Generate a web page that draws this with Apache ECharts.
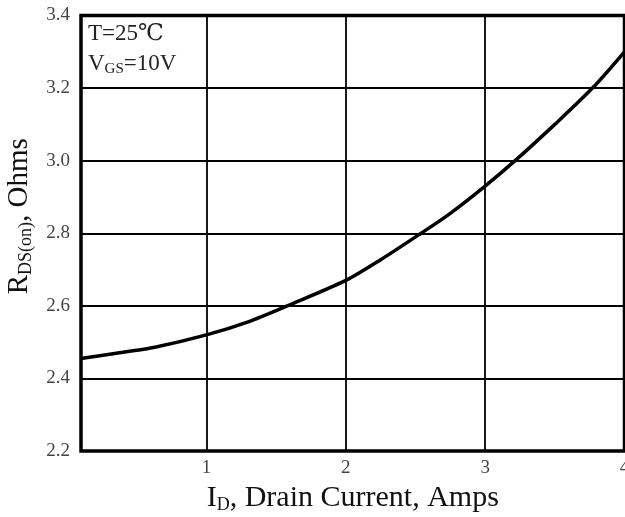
<!DOCTYPE html>
<html>
<head>
<meta charset="utf-8">
<script src="https://cdn.jsdelivr.net/npm/echarts@6/dist/echarts.min.js"></script>
<style>
html,body{margin:0;padding:0;background:#fff;}
#chart{width:625px;height:517px;}
</style>
</head>
<body>
<div id="chart"></div>
<script>
// Drain current (A) vs on-resistance (Ohms)
var currentA = [0.1, 0.4, 0.63, 1.0, 1.3, 1.58, 2.0, 2.25, 2.54, 2.75, 3.0, 3.215, 3.5, 3.77, 4.0];
var rdsOhms  = [2.455, 2.472, 2.486, 2.52, 2.556, 2.60, 2.67, 2.727, 2.80, 2.855, 2.93, 3.0, 3.10, 3.2, 3.30];
var xTickValues = [1, 2, 3, 4];
var yMin = 2.2, yMax = 3.4, yStep = 0.2;

var FONT = '"Liberation Serif", "DejaVu Serif", serif';
var chart = echarts.init(document.getElementById('chart'));
chart.setOption({
  backgroundColor: '#fff',
  animation: false,
  grid: {
    left: 81, right: 0.5, top: 15.5, bottom: 66,
    containLabel: false, outerBoundsMode: 'none',
    show: true, borderColor: '#000', borderWidth: 3.5, backgroundColor: 'transparent'
  },
  xAxis: {
    type: 'value', min: 0.1, max: 4,
    axisLine: {show: false},
    axisTick: {show: false, customValues: xTickValues},
    axisLabel: {customValues: xTickValues, color: '#444', fontFamily: FONT, fontSize: 19, margin: 8},
    splitLine: {show: true, lineStyle: {color: '#000', width: 1.8}},
    name: '{m|I}{s|D}{m|, Drain Current, Amps}',
    nameLocation: 'middle', nameGap: 30,
    nameTextStyle: {
      rich: {
        m: {fontFamily: FONT, fontSize: 30, color: '#111', lineHeight: 32},
        s: {fontFamily: FONT, fontSize: 18, color: '#111', lineHeight: 16, verticalAlign: 'bottom'}
      }
    }
  },
  yAxis: {
    type: 'value', min: yMin, max: yMax, interval: yStep,
    axisLine: {show: false},
    axisTick: {show: false},
    axisLabel: {color: '#444', fontFamily: FONT, fontSize: 19, margin: 11,
      formatter: function (v) { return v.toFixed(1); }},
    splitLine: {show: true, lineStyle: {color: '#000', width: 1.8}},
    name: '{m|R}{s|DS(on)}{m|, Ohms}',
    nameLocation: 'middle', nameGap: 46,
    nameTextStyle: {
      padding: [0, 0, 0, 34],
      rich: {
        m: {fontFamily: FONT, fontSize: 29, color: '#111', lineHeight: 32},
        s: {fontFamily: FONT, fontSize: 18, color: '#111', lineHeight: 16, verticalAlign: 'bottom'}
      }
    }
  },
  graphic: [
    {type: 'text', left: 88, top: 22, style: {
      text: 'T=25℃', fontFamily: FONT, fontSize: 23, fill: '#222'}},
    {type: 'text', left: 88, top: 52, style: {
      text: '{m|V}{s|GS}{m|=10V}',
      rich: {
        m: {fontFamily: FONT, fontSize: 23, fill: '#222', lineHeight: 26},
        s: {fontFamily: FONT, fontSize: 15, fill: '#222', lineHeight: 14, verticalAlign: 'bottom'}
      }}}
  ],
  series: [{
    type: 'line',
    data: currentA.map(function (x, i) { return [x, rdsOhms[i]]; }),
    smooth: 0.3,
    showSymbol: false,
    lineStyle: {color: '#000', width: 3.5},
    clip: true
  }]
});
</script>
</body>
</html>
